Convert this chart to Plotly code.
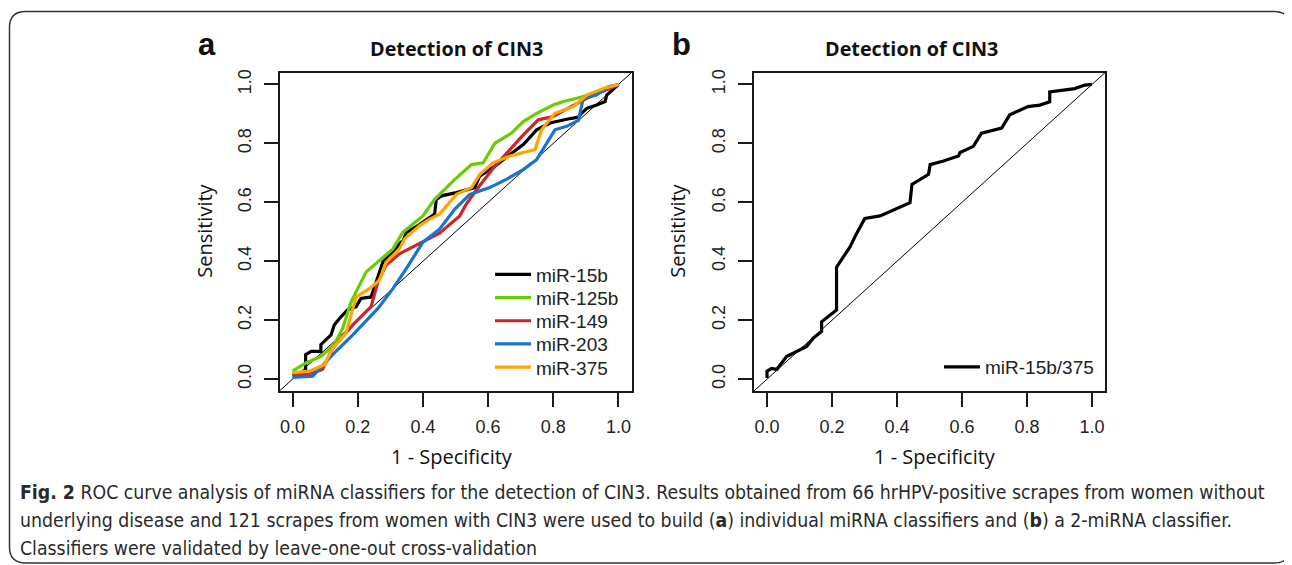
import plotly.graph_objects as go

# page body has an 8px margin; figure is sized to fit and coordinates below are reference-pixel based
OX, OY = 8, 8
W, H = 1284, 557

# ---------------- data ----------------
mir15b_x = [0, 0.04, 0.04, 0.057, 0.087, 0.087, 0.118, 0.128, 0.144, 0.169, 0.195, 0.21, 0.241, 0.262, 0.277,
            0.303, 0.333, 0.338, 0.349, 0.385, 0.415, 0.436, 0.441, 0.457, 0.503, 0.559, 0.574, 0.621, 0.667,
            0.708, 0.749, 0.79, 0.841, 0.877, 0.885, 0.903, 0.933, 0.959, 0.964, 1.0]
mir15b_y = [0.016, 0.016, 0.083, 0.094, 0.094, 0.117, 0.15, 0.184, 0.206, 0.235, 0.246, 0.274, 0.279, 0.352,
            0.397, 0.425, 0.465, 0.465, 0.498, 0.521, 0.543, 0.56, 0.61, 0.622, 0.633, 0.65, 0.689, 0.723,
            0.762, 0.796, 0.846, 0.869, 0.882, 0.889, 0.90, 0.919, 0.93, 0.942, 0.964, 1.0]

mir125b_x = [0, 0.041, 0.087, 0.128, 0.154, 0.18, 0.226, 0.267, 0.308, 0.338, 0.4, 0.436, 0.451, 0.498, 0.549,
             0.585, 0.621, 0.672, 0.708, 0.749, 0.8, 0.831, 0.872, 0.908, 0.944, 1.0]
mir125b_y = [0.027, 0.055, 0.077, 0.117, 0.173, 0.263, 0.364, 0.403, 0.442, 0.498, 0.554, 0.61, 0.627, 0.678,
             0.728, 0.734, 0.801, 0.835, 0.874, 0.902, 0.93, 0.942, 0.953, 0.964, 0.975, 1.0]

mir149_x = [0, 0.062, 0.092, 0.123, 0.185, 0.241, 0.262, 0.287, 0.328, 0.4, 0.451, 0.513, 0.533, 0.574, 0.621,
            0.667, 0.708, 0.754, 0.8, 0.836, 0.872, 0.903, 0.938, 1.0]
mir149_y = [0.01, 0.021, 0.033, 0.105, 0.184, 0.246, 0.33, 0.386, 0.425, 0.465, 0.495, 0.554, 0.594, 0.656,
            0.723, 0.779, 0.829, 0.88, 0.891, 0.914, 0.936, 0.953, 0.97, 1.0]

mir203_x = [0, 0.062, 0.123, 0.185, 0.262, 0.308, 0.349, 0.4, 0.451, 0.498, 0.544, 0.605, 0.656, 0.708, 0.749,
            0.805, 0.841, 0.877, 0.892, 0.933, 0.969, 1.0]
mir203_y = [0.006, 0.01, 0.083, 0.15, 0.24, 0.307, 0.375, 0.465, 0.509, 0.577, 0.627, 0.65, 0.678, 0.711,
            0.745, 0.846, 0.858, 0.878, 0.953, 0.964, 0.992, 1.0]

mir375_x = [0, 0.051, 0.098, 0.123, 0.164, 0.18, 0.195, 0.236, 0.267, 0.287, 0.328, 0.344, 0.39, 0.421, 0.451,
            0.503, 0.549, 0.574, 0.615, 0.667, 0.744, 0.764, 0.805, 0.862, 0.903, 0.954, 1.0]
mir375_y = [0.021, 0.027, 0.049, 0.105, 0.156, 0.218, 0.279, 0.307, 0.336, 0.397, 0.442, 0.476, 0.521, 0.543,
            0.56, 0.627, 0.65, 0.694, 0.734, 0.757, 0.779, 0.846, 0.902, 0.925, 0.964, 0.986, 1.0]

combo_x = [0, 0, 0.014, 0.03, 0.06, 0.091, 0.122, 0.142, 0.168, 0.168, 0.214, 0.214, 0.255, 0.275, 0.301, 0.348,
           0.409, 0.44, 0.446, 0.497, 0.502, 0.543, 0.589, 0.594, 0.635, 0.66, 0.722, 0.747, 0.803, 0.839, 0.87,
           0.87, 0.947, 0.978, 1.0]
combo_y = [0.004, 0.027, 0.036, 0.033, 0.077, 0.094, 0.111, 0.139, 0.162, 0.195, 0.235, 0.38, 0.448, 0.493,
           0.545, 0.554, 0.582, 0.599, 0.661, 0.695, 0.728, 0.74, 0.757, 0.769, 0.79, 0.835, 0.852, 0.897, 0.925,
           0.93, 0.941, 0.975, 0.986, 0.998, 1.0]

series_a = ["miR-15b", "miR-125b", "miR-149", "miR-203", "miR-375"]
colors_a = ["#000000", "#66CD00", "#CD2626", "#1874CD", "#FFA500"]
xs_a = [mir15b_x, mir125b_x, mir149_x, mir203_x, mir375_x]
ys_a = [mir15b_y, mir125b_y, mir149_y, mir203_y, mir375_y]
series_b = "miR-15b/375"

tick_vals = [0.0, 0.2, 0.4, 0.6, 0.8, 1.0]
tick_text = ["0.0", "0.2", "0.4", "0.6", "0.8", "1.0"]
axis_range = [-0.04, 1.04]

panel_title = "Detection of CIN3"
x_title = "1 - Specificity"
y_title = "Sensitivity"
caption_lines = [
    "<b>Fig. 2</b> ROC curve analysis of miRNA classifiers for the detection of CIN3. Results obtained from 66 hrHPV-positive scrapes from women without",
    "underlying disease and 121 scrapes from women with CIN3 were used to build (<b>a</b>) individual miRNA classifiers and (<b>b</b>) a 2-miRNA classifier.",
    "Classifiers were validated by leave-one-out cross-validation",
]


# ---------------- helpers (reference pixel -> paper) ----------------
def px(x):
    return (x - OX) / W


def py(y):
    return 1 - (y - OY) / H


fig = go.Figure()

# diagonal reference lines (y = x across the full axis range)
for xa, ya in [("x", "y"), ("x2", "y2")]:
    fig.add_trace(go.Scatter(x=axis_range, y=axis_range, mode="lines", xaxis=xa, yaxis=ya,
                             line=dict(color="#000000", width=1), showlegend=False, hoverinfo="skip"))

legend_font = dict(family="Liberation Sans, Arial, sans-serif", size=19, color="#222222")
legend_layout = {}
for i, (name, col, xv, yv) in enumerate(zip(series_a, colors_a, xs_a, ys_a)):
    lname = "legend" if i == 0 else f"legend{i + 1}"
    fig.add_trace(go.Scatter(x=xv, y=yv, mode="lines", name=name, xaxis="x", yaxis="y",
                             line=dict(color=col, width=3.2), legend=lname))
    legend_layout[lname] = dict(x=px(490), y=py(273 + 23.3 * i), xanchor="left", yanchor="middle",
                                bgcolor="rgba(0,0,0,0)", font=legend_font, itemwidth=36)

fig.add_trace(go.Scatter(x=combo_x, y=combo_y, mode="lines", name=series_b, xaxis="x2", yaxis="y2",
                         line=dict(color="#000000", width=3.2), legend="legend6"))
legend_layout["legend6"] = dict(x=px(939), y=py(366), xanchor="left", yanchor="middle",
                                bgcolor="rgba(0,0,0,0)", font=legend_font, itemwidth=36)

ydom = [py(390), py(70)]
axis_common = dict(range=axis_range, tickvals=tick_vals, ticktext=tick_text, showgrid=False, zeroline=False,
                   showline=True, mirror=True, linecolor="#1a1a1a", linewidth=1.5, ticks="outside",
                   ticklen=14, tickwidth=1.5, tickcolor="#1a1a1a",
                   tickfont=dict(family="Liberation Sans, Arial, sans-serif", size=18, color="#222222"))

fig.update_layout(
    width=W, height=H, margin=dict(l=0, r=0, t=0, b=0),
    paper_bgcolor="white", plot_bgcolor="white",
    xaxis=dict(domain=[px(279.5), px(631.5)], anchor="y", ticklabelstandoff=5, **axis_common),
    yaxis=dict(domain=ydom, anchor="x", tickangle=-90, ticklabelstandoff=6, **axis_common),
    xaxis2=dict(domain=[px(754), px(1105)], anchor="y2", ticklabelstandoff=5, **axis_common),
    yaxis2=dict(domain=ydom, anchor="x2", tickangle=-90, ticklabelstandoff=6, **axis_common),
    showlegend=True,
    **legend_layout,
)

ann = []
label_font = dict(family="Open Sans, sans-serif", size=20, color="#111111")


def add_text(x, y, text, font, **kw):
    d = dict(x=px(x), y=py(y), text=text, showarrow=False, xref="paper", yref="paper",
             xanchor="center", yanchor="middle", font=font)
    d.update(kw)
    ann.append(d)


# panel letters
letter_font = dict(family="Liberation Sans, Arial, sans-serif", size=31, color="#111111")
add_text(207, 42, "<b>a</b>", letter_font)
add_text(681, 42, "<b>b</b>", letter_font)
# panel titles
for cx in (456, 911):
    add_text(cx, 46, "<b>" + panel_title + "</b>", dict(family="Open Sans, sans-serif", size=19.8, color="#111111"))
# axis titles
for cx in (452, 935):
    add_text(cx, 456, x_title, label_font)
for cx in (205, 678):
    add_text(cx, 229, y_title, label_font, textangle=-90)
# caption
cap_font = dict(family="DejaVu Sans Condensed, Liberation Sans Narrow, sans-serif", size=19.3, color="#2a2a2a")
for i, line in enumerate(caption_lines):
    add_text(18, 492 + 28 * i, line, cap_font, xanchor="left")
fig.update_layout(annotations=ann)

# outer rounded frame
x0, y0, x1, y1, r = 9.5, 8.5, 1290, 563, 16
rx, ry = r / W, r / H
X0, X1, Y0, Y1 = px(x0), px(x1), py(y0), py(y1)
path = (f"M {X0+rx},{Y0} L {X1-rx},{Y0} Q {X1},{Y0} {X1},{Y0-ry} L {X1},{Y1+ry} Q {X1},{Y1} {X1-rx},{Y1} "
        f"L {X0+rx},{Y1} Q {X0},{Y1} {X0},{Y1+ry} L {X0},{Y0-ry} Q {X0},{Y0} {X0+rx},{Y0} Z")
fig.add_shape(type="path", path=path, xref="paper", yref="paper", line=dict(color="#333333", width=1.5),
              layer="below")

fig.write_html("out.html")
